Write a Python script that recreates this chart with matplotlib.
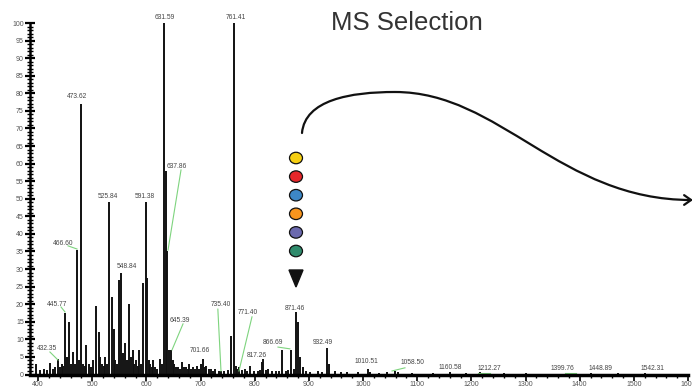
import numpy as np
import matplotlib.pyplot as plt
from matplotlib.path import Path
from matplotlib.patches import FancyArrowPatch, Ellipse, Polygon

plt.rcParams['font.family'] = ['Liberation Sans', 'DejaVu Sans']

# spectrum peaks (m/z, relative intensity %)
peak_mz = [396, 404, 411, 416, 422, 427, 431, 437, 441, 444, 447, 450, 454, 457, 461,
           465, 468, 472, 475, 479, 483, 486, 489.5, 494, 498, 502, 507, 512.6, 515,
           518, 521, 524, 527, 531, 536, 540, 543, 546, 548.6, 553, 557, 561, 565,
           568, 572, 575, 578, 581, 584, 586, 590, 594, 598.5, 601, 604, 607, 610,
           612, 616, 620, 625, 628, 632, 636, 638.5, 642, 646, 649, 651, 655, 658,
           662, 666, 670, 673, 676, 679, 683, 686, 690, 694, 698, 701, 705, 708,
           710, 715, 719, 723, 727, 734, 738, 743, 750, 756, 762, 765, 768, 771,
           776, 782, 786, 791, 798, 806, 810, 814, 816, 820, 825, 832, 839, 845,
           850, 858, 862, 867, 872, 876, 880, 884, 889, 895, 903, 917, 925, 933,
           937, 948, 960, 970, 990, 1009, 1013, 1030, 1044, 1059, 1065, 1090,
           1130, 1161, 1190, 1216, 1260, 1300, 1382, 1420, 1470, 1520]
peak_int = [3, 1.2, 1.5, 1.2, 3.4, 1.5, 2, 4.5, 2, 3, 2.5, 17.5, 5, 15, 3,
            6.5, 3, 35.5, 4, 77, 3, 2.5, 8.5, 3, 2, 4, 19.6, 12, 5,
            3, 2.5, 5, 3, 49, 22, 13, 4, 3, 27, 29, 6, 9, 4,
            20, 5, 7, 3, 4, 2.5, 7, 3, 26, 49, 27.5, 4, 3, 2,
            4, 2, 1.5, 4.5, 3, 100, 58, 35, 7, 7, 4, 3, 2, 2,
            1.5, 3.5, 2, 2, 1.5, 3, 1.5, 2, 1.5, 2.5, 1.5, 3, 4.5, 2,
            2.5, 1.5, 1.5, 1, 1.5, 1, 1, 1, 1.2, 11, 100, 2.5, 1.5, 2,
            1.2, 1.5, 1, 2.5, 1, 1, 1.2, 3.5, 4.5, 1.2, 1.5, 1, 1, 1,
            7, 1, 1.2, 7, 1.5, 17.7, 15, 5, 2, 1, 0.8, 1, 0.6, 7.4,
            3, 1, 0.6, 0.8, 0.6, 1.7, 0.7, 0.5, 0.7, 1, 0.8, 0.5,
            0.5, 0.6, 0.4, 0.6, 0.4, 0.4, 0.5, 0.4, 0.4, 0.4]

# peak annotations: text, text position, optional green leader (start -> end)
label_text = ["432.35", "445.77", "466.60", "473.62", "525.84", "548.84", "591.38",
              "631.59", "637.86", "645.39", "701.66", "735.40", "761.41", "771.40",
              "817.26", "866.69", "871.46", "932.49", "1010.51", "1058.50", "1160.58",
              "1212.27", "1399.76", "1448.89", "1542.31"]
label_x = [416.6, 435, 446, 472, 529, 564, 597.5, 634.4, 656.6, 662, 699, 737.8,
           765.5, 787.7, 804, 833.8, 874.4, 926, 1007, 1092, 1160.6, 1234, 1369,
           1437.5, 1535]
label_y = [7.5, 20, 37.4, 79, 50.5, 30.6, 50.5, 101.7, 59.3, 15.5, 6.7, 19.8,
           101.7, 17.5, 5.5, 9, 18.9, 9, 3.8, 3.3, 2.1, 1.8, 1.8, 1.8, 1.8]
leaders = {
    "432.35": ((422, 6.4), (437, 4.1)),
    "445.77": ((442.5, 19.2), (449.8, 17.8)),
    "466.60": ((455.4, 36.6), (472, 35.7)),
    "637.86": ((664, 58.2), (640, 35.4)),
    "645.39": ((667.7, 14.4), (647.4, 7)),
    "735.40": ((732, 18.6), (737.8, 1)),
    "771.40": ((795, 16.4), (771, 1)),
    "866.69": ((843, 7.8), (865, 7.3)),
    "1058.50": ((1077.5, 1.9), (1053.5, 1)),
    "1212.27": ((1212, 0.5), (1234, 0.5)),
    "1399.76": ((1373, 0.5), (1393, 0.5)),
}

dot_colors = ["#F6CF12", "#E5262A", "#3D87C6", "#F7941D", "#6B69AE", "#2F8B6C"]

fig = plt.figure(figsize=(6.92, 3.9), dpi=100)
ax = fig.add_axes([30 / 692, 1 - 374.5 / 390, 658 / 692, (374.5 - 23) / 390])

ax.vlines(peak_mz, 0, peak_int, color="#111111", linewidth=1.4)

for txt, x, y in zip(label_text, label_x, label_y):
    ax.text(x, y, txt, fontsize=4.8, color="#444444", ha="center", va="center")
    if txt in leaders:
        (x0, y0), (x1, y1) = leaders[txt]
        ax.plot([x0, x1], [y0, y1], color="#7ED47E", linewidth=0.8)

ax.set_xlim(385.2, 1600)
ax.set_ylim(0, 100)
ax.set_xticks(np.arange(400, 1601, 100))
ax.set_xticks(np.arange(400, 1601, 20), minor=True)
ax.set_yticks(np.arange(0, 101, 5))
ax.set_yticks(np.arange(0, 101, 1), minor=True)
ax.tick_params(axis="x", which="major", direction="out", length=4, width=1.2,
               labelsize=5, labelcolor="#555555", pad=1)
ax.tick_params(axis="x", which="minor", direction="out", length=2.5, width=1)
ax.tick_params(axis="y", which="major", direction="inout", length=7, width=1.6,
               labelsize=5, labelcolor="#555555", pad=1)
ax.tick_params(axis="y", which="minor", direction="inout", length=4, width=1)
for s in ["top", "right"]:
    ax.spines[s].set_visible(False)
ax.spines["left"].set_linewidth(1.8)
ax.spines["bottom"].set_linewidth(2.5)
ax.patch.set_visible(False)

# overlay in pixel coordinates for the selection sketch
ov = fig.add_axes([0, 0, 1, 1])
ov.set_xlim(0, 692)
ov.set_ylim(390, 0)
ov.axis("off")
ov.patch.set_visible(False)

ov.text(407, 23, "MS Selection", fontsize=18.5, color="#333333", ha="center", va="center")

verts = [(302, 133), (305, 100), (350, 92), (395, 92),
         (500, 92), (560, 200), (693, 200)]
codes = [Path.MOVETO, Path.CURVE4, Path.CURVE4, Path.CURVE4,
         Path.CURVE4, Path.CURVE4, Path.CURVE4]
arrow = FancyArrowPatch(path=Path(verts, codes), arrowstyle="->,head_length=5,head_width=3.5",
                        color="#111111", linewidth=1.6)
ov.add_patch(arrow)

for i, c in enumerate(dot_colors):
    ov.add_patch(Ellipse((296, 158 + i * 18.6), 13, 11.5, facecolor=c,
                         edgecolor="#111111", linewidth=0.9))
ov.add_patch(Polygon([(289, 270), (303, 270), (296, 287)], closed=True,
                     facecolor="#111111", edgecolor="#111111"))

fig.savefig("out.png", dpi=100)
